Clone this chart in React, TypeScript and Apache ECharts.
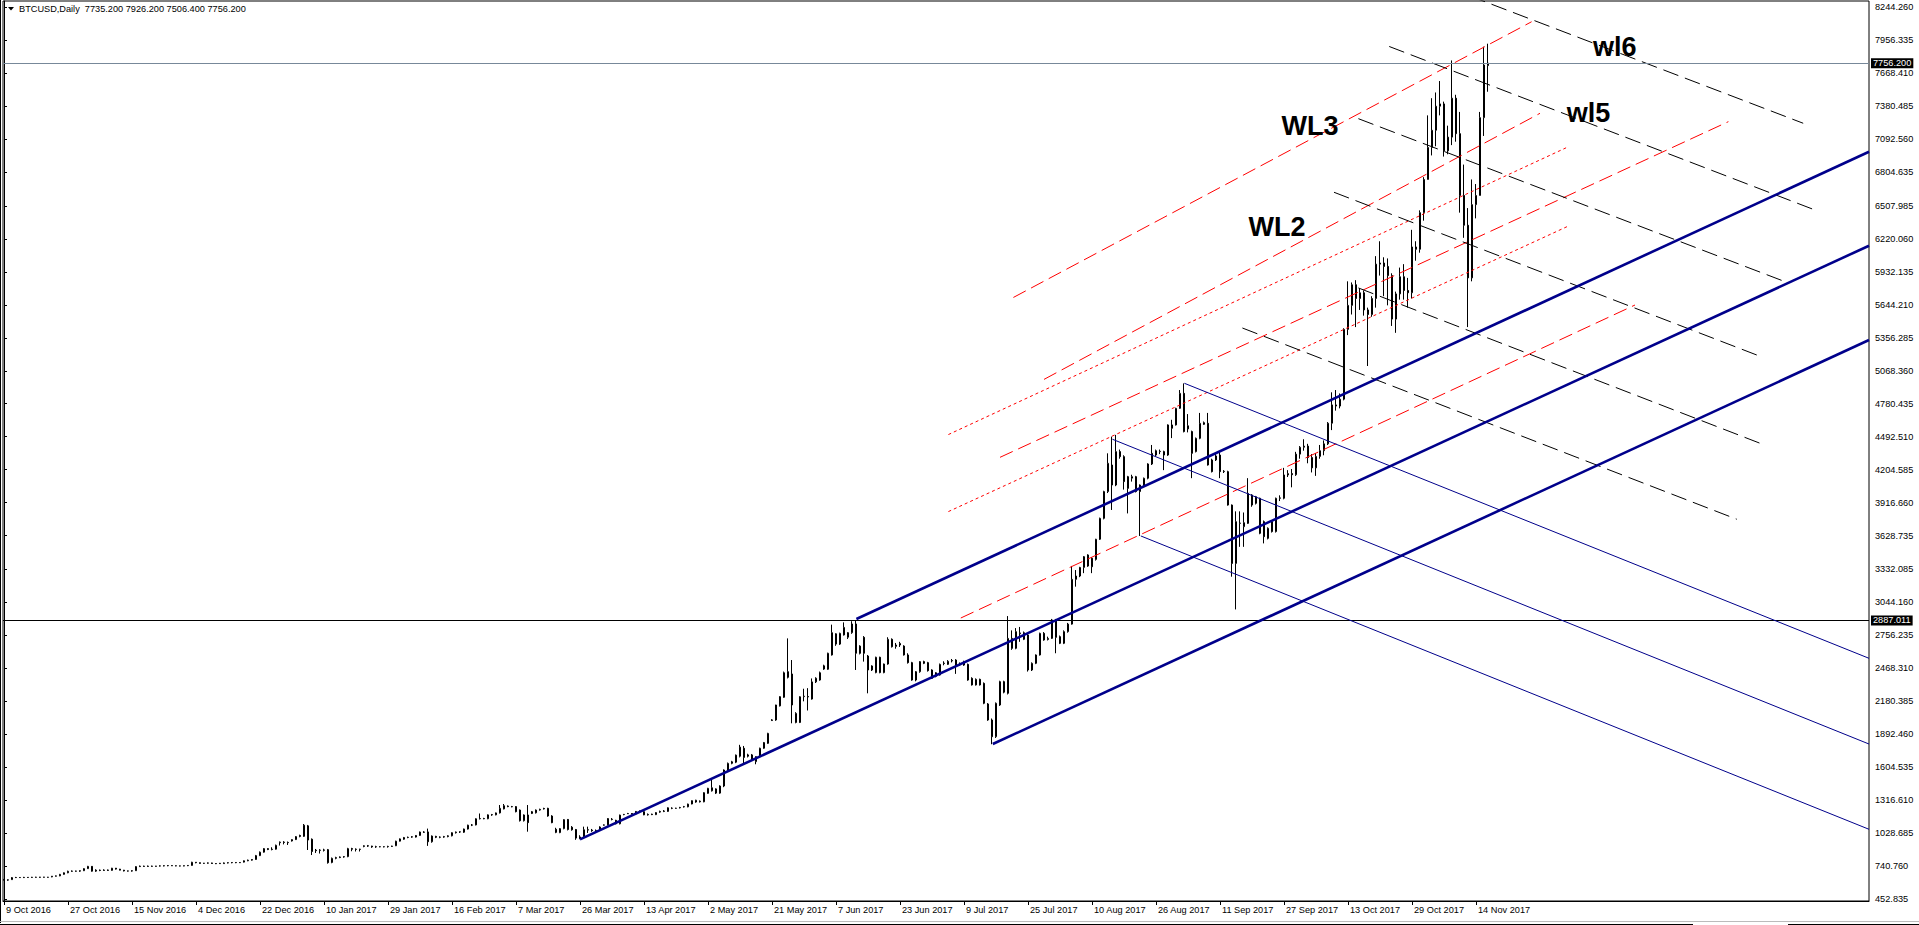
import React, { useEffect, useRef } from "react";
import * as echarts from "echarts";

const FONT = "'Liberation Sans', Arial, sans-serif";

// Date tick labels (bar index -> label)
const dateLabelBars = [0, 16, 32, 48, 64, 80, 96, 112, 128, 144, 160, 176, 192, 208, 224, 240, 256, 272, 288, 304, 320, 336, 352, 368];
const dateLabels = [
  "9 Oct 2016", "27 Oct 2016", "15 Nov 2016", "4 Dec 2016", "22 Dec 2016", "10 Jan 2017", "29 Jan 2017",
  "16 Feb 2017", "7 Mar 2017", "26 Mar 2017", "13 Apr 2017", "2 May 2017", "21 May 2017", "7 Jun 2017",
  "23 Jun 2017", "9 Jul 2017", "25 Jul 2017", "10 Aug 2017", "26 Aug 2017", "11 Sep 2017", "27 Sep 2017",
  "13 Oct 2017", "29 Oct 2017", "14 Nov 2017",
];

// Price tick labels (as printed on the right scale)
const priceLabels = [
  "452.835", "740.760", "1028.685", "1316.610", "1604.535", "1892.460", "2180.385", "2468.310", "2756.235",
  "3044.160", "3332.085", "3628.735", "3916.660", "4204.585", "4492.510", "4780.435", "5068.360", "5356.285",
  "5644.210", "5932.135", "6220.060", "6507.985", "6804.635", "7092.560", "7380.485", "7668.410", "7956.335",
  "8244.260",
];

// Daily bars: [open, high, low, close]
const barsOct2016: number[][] = [
  [622, 628, 615, 620], [620, 624, 612, 618], [622, 645, 620, 640], [640, 646, 636, 641], [641, 644, 638, 640],
  [640, 646, 636, 642], [642, 645, 639, 641], [641, 646, 637, 643], [643, 647, 639, 642], [642, 646, 638, 644],
  [644, 646, 641, 643], [643, 646, 640, 642], [646, 654, 643, 652], [652, 658, 649, 655], [655, 672, 652, 668],
  [668, 685, 665, 682], [682, 700, 678, 695], [695, 702, 690, 697], [697, 700, 692, 696], [696, 703, 690, 700],
  [700, 722, 697, 718], [718, 742, 715, 738], [738, 741, 692, 696], [696, 712, 690, 705], [705, 710, 696, 702],
  [702, 712, 698, 706], [706, 710, 698, 703], [703, 725, 700, 722], [722, 724, 710, 714], [714, 716, 703, 705],
  [705, 707, 694, 698], [698, 701, 693, 697], [697, 705, 692, 700], [700, 740, 698, 736], [736, 745, 732, 740],
  [740, 744, 733, 737], [737, 745, 733, 740], [740, 744, 734, 738], [738, 742, 735, 741], [741, 747, 737, 742],
  [742, 748, 738, 744], [744, 750, 739, 745], [745, 747, 741, 743], [743, 746, 739, 742], [742, 745, 738, 741],
  [741, 746, 739, 744], [744, 750, 740, 746], [746, 778, 744, 774],
];
const barsDec2016: number[][] = [
  [774, 776, 765, 770], [770, 772, 762, 764], [764, 768, 760, 766], [766, 772, 761, 768], [768, 770, 760, 763],
  [763, 766, 758, 761], [765, 768, 760, 762], [762, 772, 760, 768], [768, 774, 764, 770], [770, 776, 765, 772],
  [772, 775, 766, 770], [770, 774, 767, 772], [775, 790, 772, 787], [787, 797, 783, 792], [792, 802, 788, 798],
  [798, 838, 795, 832], [832, 868, 828, 862], [862, 898, 858, 893], [893, 897, 880, 885], [885, 905, 878, 888],
  [888, 928, 884, 922], [945, 955, 920, 950], [950, 958, 930, 947], [947, 955, 925, 945], [960, 975, 955, 972],
  [972, 1003, 968, 998], [1008, 1015, 992, 1000], [1000, 1108, 995, 1098], [1092, 1100, 881, 968], [975, 982, 837, 868],
  [880, 890, 855, 875], [880, 888, 850, 878], [878, 892, 868, 882], [884, 890, 762, 770], [772, 815, 765, 808],
  [808, 822, 800, 815], [815, 825, 810, 820], [820, 828, 814, 823], [823, 900, 818, 893], [893, 900, 870, 888],
  [888, 895, 868, 886], [886, 892, 868, 888], [912, 922, 905, 918], [918, 925, 908, 915], [915, 918, 900, 908],
  [908, 918, 900, 910], [910, 914, 905, 909], [909, 913, 904, 910],
];
const barsFeb2017: number[][] = [
  [910, 918, 902, 912], [912, 918, 908, 915], [918, 962, 915, 958], [958, 982, 955, 978], [975, 995, 970, 990],
  [990, 998, 984, 992], [996, 1002, 988, 994], [994, 1012, 990, 1008], [1008, 1042, 1005, 1038], [1038, 1045, 1030, 1036],
  [1039, 1068, 917, 953], [953, 1008, 945, 1003], [1000, 1005, 985, 992], [992, 1000, 984, 994], [994, 1004, 988, 998],
  [998, 1010, 992, 1005], [1005, 1036, 1000, 1032], [1032, 1042, 1025, 1038], [1038, 1045, 1030, 1040], [1036, 1068, 1030, 1064],
  [1064, 1102, 1060, 1098], [1098, 1108, 1090, 1100], [1100, 1158, 1096, 1154], [1154, 1200, 1148, 1156], [1156, 1162, 1150, 1154],
  [1154, 1192, 1150, 1188], [1188, 1196, 1180, 1190], [1188, 1208, 1184, 1205], [1205, 1274, 1200, 1245], [1240, 1283, 1236, 1268],
  [1265, 1270, 1255, 1260], [1260, 1266, 1254, 1259], [1260, 1265, 1210, 1216], [1230, 1235, 1130, 1137], [1137, 1192, 1130, 1187],
  [1187, 1274, 1041, 1120], [1200, 1222, 1195, 1216], [1206, 1235, 1200, 1230], [1230, 1242, 1225, 1236], [1244, 1250, 1235, 1240],
  [1245, 1250, 1172, 1178], [1178, 1185, 1115, 1120], [1062, 1075, 1028, 1035], [1033, 1072, 1028, 1068], [1068, 1150, 1062, 1146],
  [1148, 1152, 1052, 1060], [1080, 1090, 1050, 1058], [1060, 1065, 970, 985],
];
const barsApr2017: number[][] = [
  [985, 1010, 975, 995], [995, 1085, 990, 1058], [1058, 1085, 1030, 1055], [1055, 1065, 1040, 1050], [1050, 1060, 1040, 1052],
  [1052, 1088, 1048, 1082], [1098, 1104, 1094, 1100], [1100, 1160, 1096, 1156], [1150, 1160, 1140, 1148], [1140, 1145, 1105, 1110],
  [1110, 1190, 1105, 1186], [1190, 1196, 1185, 1192], [1198, 1205, 1195, 1200], [1200, 1204, 1190, 1195], [1196, 1222, 1192, 1218],
  [1222, 1226, 1214, 1218], [1216, 1220, 1185, 1188], [1188, 1200, 1182, 1192], [1194, 1198, 1186, 1190], [1190, 1212, 1186, 1208],
  [1212, 1225, 1206, 1218], [1218, 1230, 1212, 1222], [1218, 1254, 1214, 1250], [1245, 1254, 1238, 1246], [1246, 1250, 1242, 1245],
  [1252, 1258, 1244, 1250], [1258, 1266, 1252, 1260], [1258, 1286, 1254, 1282], [1283, 1315, 1280, 1312], [1300, 1320, 1294, 1316],
  [1308, 1314, 1296, 1302], [1302, 1386, 1298, 1382], [1376, 1424, 1372, 1420], [1398, 1495, 1392, 1425], [1415, 1420, 1370, 1378],
  [1378, 1446, 1372, 1440], [1440, 1585, 1430, 1580], [1580, 1645, 1575, 1638], [1638, 1660, 1630, 1652], [1648, 1715, 1640, 1710],
  [1700, 1800, 1690, 1780], [1770, 1790, 1638, 1690], [1700, 1722, 1690, 1712], [1712, 1720, 1660, 1667], [1653, 1700, 1630, 1697],
  [1697, 1775, 1690, 1770], [1770, 1825, 1765, 1820], [1813, 1905, 1808, 1900],
];
const barsMay2017: number[][] = [
  [2012, 2025, 2008, 2018], [2017, 2150, 2010, 2148], [2140, 2225, 2135, 2221], [2215, 2440, 2210, 2430], [2439, 2730, 2380, 2390],
  [2419, 2541, 1988, 2148], [1995, 2085, 1988, 2075], [1995, 2225, 1990, 2220], [2221, 2290, 2180, 2225], [2222, 2295, 2100, 2218],
  [2200, 2380, 2195, 2350], [2350, 2390, 2340, 2382], [2366, 2440, 2360, 2430], [2490, 2500, 2455, 2462], [2460, 2605, 2455, 2600],
  [2585, 2850, 2580, 2780], [2770, 2775, 2665, 2680], [2680, 2780, 2672, 2774], [2760, 2870, 2755, 2826], [2740, 2785, 2725, 2780],
  [2780, 2880, 2770, 2856], [2856, 2887, 2454, 2600], [2599, 2670, 2590, 2663], [2739, 2750, 2527, 2600], [2576, 2585, 2250, 2454],
  [2454, 2495, 2445, 2489], [2431, 2570, 2425, 2565], [2565, 2570, 2425, 2431], [2431, 2510, 2425, 2506], [2506, 2740, 2500, 2722],
  [2722, 2730, 2650, 2657], [2660, 2690, 2640, 2672], [2672, 2700, 2655, 2686], [2663, 2670, 2580, 2585], [2585, 2600, 2510, 2518],
  [2518, 2525, 2360, 2366], [2366, 2445, 2355, 2439], [2439, 2532, 2430, 2527], [2527, 2535, 2505, 2512], [2518, 2525, 2440, 2448],
  [2454, 2460, 2375, 2381], [2398, 2435, 2390, 2430], [2410, 2510, 2405, 2503], [2510, 2530, 2495, 2514], [2503, 2540, 2498, 2530],
  [2533, 2550, 2520, 2537], [2541, 2548, 2420, 2497], [2500, 2520, 2490, 2506],
];
const barsJul2017: number[][] = [
  [2497, 2535, 2490, 2527], [2503, 2510, 2360, 2366], [2381, 2390, 2318, 2323], [2323, 2380, 2318, 2372], [2372, 2378, 2318, 2323],
  [2337, 2345, 2155, 2163], [2157, 2165, 2010, 2017], [2017, 2030, 1805, 1871], [1871, 2170, 1860, 2163], [2148, 2360, 2140, 2352],
  [2352, 2360, 2250, 2260], [2250, 2925, 2240, 2730], [2730, 2800, 2630, 2643], [2643, 2820, 2635, 2789], [2770, 2830, 2700, 2778],
  [2722, 2790, 2715, 2780], [2760, 2770, 2440, 2454], [2454, 2520, 2445, 2512], [2512, 2590, 2505, 2585], [2585, 2780, 2580, 2774],
  [2774, 2785, 2710, 2716], [2720, 2745, 2712, 2730], [2730, 2900, 2725, 2891], [2891, 2900, 2600, 2739], [2745, 2755, 2680, 2687],
  [2687, 2800, 2680, 2789], [2789, 2865, 2780, 2855], [2855, 3363, 2850, 3246], [3246, 3327, 3182, 3275], [3275, 3355, 3265, 3350],
  [3350, 3450, 3300, 3444], [3362, 3465, 3355, 3459], [3430, 3440, 3300, 3356], [3420, 3600, 3410, 3596], [3596, 3785, 3590, 3779],
  [3779, 4020, 3770, 4013], [4013, 4347, 4000, 4260], [4245, 4493, 3852, 4070], [4070, 4508, 4060, 4362], [4362, 4380, 4300, 4318],
  [4318, 4330, 4030, 4100], [4143, 4150, 3822, 4041], [4130, 4160, 4100, 4143], [4143, 4150, 4005, 4013], [4013, 4075, 3625, 4070],
  [4070, 4135, 4060, 4129], [4129, 4260, 4120, 4254], [4254, 4420, 4245, 4347],
];
const barsAug2017: number[][] = [
  [4332, 4380, 4320, 4370], [4362, 4380, 4340, 4365], [4362, 4370, 4200, 4332], [4332, 4600, 4325, 4595], [4595, 4640, 4480, 4566],
  [4595, 4745, 4590, 4740], [4740, 4900, 4735, 4871], [4871, 4958, 4530, 4537], [4560, 4690, 4530, 4588], [4537, 4545, 4130, 4347],
  [4362, 4485, 4355, 4478], [4478, 4700, 4470, 4609], [4600, 4625, 4595, 4615], [4609, 4700, 4240, 4245], [4289, 4300, 4180, 4187],
  [4289, 4350, 4280, 4324], [4332, 4360, 4130, 4187], [4187, 4200, 4175, 4190], [4187, 4195, 3890, 3895], [3895, 3900, 3269, 3385],
  [3385, 3840, 2983, 3750], [3735, 3840, 3530, 3738], [3706, 3830, 3530, 3741], [3735, 4130, 3730, 3997], [3983, 3990, 3880, 3895],
  [3910, 3975, 3900, 3968], [3954, 3960, 3640, 3648], [3750, 3760, 3560, 3619], [3604, 3700, 3595, 3692], [3750, 3760, 3655, 3663],
  [3663, 3960, 3655, 3954], [3954, 3980, 3930, 3958], [3954, 4220, 3945, 4158], [4158, 4200, 4140, 4170], [4170, 4210, 4050, 4160],
  [4160, 4360, 4150, 4340], [4340, 4410, 4300, 4400], [4400, 4470, 4370, 4410], [4410, 4430, 4260, 4310], [4310, 4340, 4180, 4220],
  [4220, 4350, 4150, 4320], [4320, 4420, 4300, 4370], [4370, 4460, 4330, 4430], [4430, 4620, 4420, 4610], [4610, 4880, 4550, 4770],
  [4770, 4900, 4720, 4760], [4760, 4870, 4740, 4820], [4820, 5440, 4810, 5430],
];
const barsOct2017: number[][] = [
  [5430, 5850, 5380, 5640], [5640, 5840, 5560, 5820], [5820, 5860, 5450, 5700], [5700, 5790, 5600, 5750], [5750, 5770, 5550, 5600],
  [5600, 5620, 5110, 5560], [5560, 5720, 5540, 5700], [5700, 6070, 5620, 6000], [6000, 6200, 5900, 6010], [6010, 6060, 5720, 5980],
  [5980, 6050, 5640, 5900], [5900, 5920, 5460, 5520], [5520, 5760, 5400, 5740], [5740, 5970, 5690, 5890], [5890, 6000, 5690, 5770],
  [5770, 5880, 5620, 5750], [5750, 6300, 5700, 6150], [6150, 6200, 6030, 6130], [6130, 6470, 6100, 6450], [6450, 6760, 6380, 6740],
  [6740, 7300, 6740, 7020], [7020, 7450, 6950, 7170], [7170, 7500, 7030, 7380], [7380, 7600, 7300, 7400], [7400, 7420, 6940, 6990],
  [6990, 7210, 6960, 7110], [7110, 7780, 7040, 7450], [7450, 7480, 7070, 7140], [7140, 7330, 6450, 6600], [6600, 6870, 6230, 6340],
  [6340, 6490, 5450, 5880], [5880, 6740, 5850, 6520], [6520, 6700, 6400, 6600], [6600, 7330, 6600, 7280], [7280, 7900, 7120, 7740],
  [7735.2, 7926.2, 7506.4, 7756.2],
];

// Horizontal levels and their scale labels
const levelValues = [2887.011, 7756.2];
const levelLabels = ["2887.011", "7756.200"];

// Trend lines: pairs of [barIndex, price]
const blueChannel: number[][][] = [
  [[213.1, 2899], [466.25, 6982]],
  [[144, 974], [466.25, 6161]],
  [[247.2, 1807], [466.25, 5337]],
];
const blueFalling: number[][][] = [
  [[295.1, 4959], [466.25, 2556]],
  [[277.1, 4470], [466.25, 1807]],
  [[284.2, 3625], [466.25, 1062]],
];
const redDashed: number[][][] = [
  [[252.35, 5709], [381.9, 8118]],
  [[260, 4993], [384, 7318]],
  [[249, 4312], [431.1, 7245]],
  [[239.2, 2908], [407.75, 5643]],
];
const redDotted: number[][][] = [
  [[236.1, 4511], [391.1, 7026]],
  [[236.1, 3838], [391.1, 6333]],
];
const blackDashed: number[][][] = [
  [[366.5, 8343], [449.8, 7231]],
  [[346.3, 7902], [453.2, 6467]],
  [[338.6, 7271], [445.25, 5847]],
  [[332.5, 6628], [438.2, 5206]],
  [[338.6, 5792], [439, 4435]],
  [[309.6, 5442], [433.2, 3771]],
];

const lineLabels = [
  { text: "wl6", x: 1593, y: 46.7 },
  { text: "wl5", x: 1566.7, y: 113.3 },
  { text: "WL3", x: 1281.5, y: 126 },
  { text: "WL2", x: 1248.4, y: 227 },
];

const headerText = "BTCUSD,Daily\u00a0\u00a07735.200 7926.200 7506.400 7756.200";

export default function App() {
  const ref = useRef<HTMLDivElement>(null);

  useEffect(() => {
    if (!ref.current) return;
    const chart = echarts.init(ref.current, null, { renderer: "svg" });
    const bars = [
      ...barsOct2016, ...barsDec2016, ...barsFeb2017, ...barsApr2017,
      ...barsMay2017, ...barsJul2017, ...barsAug2017, ...barsOct2017,
    ];
    const candleData = bars.map((b, i) => [i, b[0], b[3], b[2], b[1]]);
    const priceValues = priceLabels.map(Number);

    const mkLines = (groups: number[][][], color: string, width: number, type: any, z: number) =>
      groups.map((pts) => ({
        type: "line",
        data: pts,
        symbol: "none",
        silent: true,
        clip: true,
        z,
        lineStyle: { color, width, type },
        emphasis: { disabled: true },
      }));

    const option: any = {
      animation: false,
      backgroundColor: "#ffffff",
      grid: {
        left: 3, right: 50, top: 1, bottom: 24,
        show: true, borderColor: "#000", borderWidth: 1, backgroundColor: "#fff",
      },
      xAxis: {
        type: "value",
        min: -0.25,
        max: 466.25,
        axisLine: { show: true, lineStyle: { color: "#000", width: 1 } },
        axisTick: { show: true, customValues: dateLabelBars, length: 4, lineStyle: { color: "#000" } },
        axisLabel: {
          customValues: dateLabelBars,
          formatter: (v: number) => {
            const k = dateLabelBars.indexOf(Math.round(v));
            return k >= 0 ? dateLabels[k] : "";
          },
          align: "left",
          padding: [0, 0, 0, 2],
          margin: 4,
          fontSize: 9.2,
          fontFamily: FONT,
          color: "#000",
        },
        splitLine: { show: false },
      },
      yAxis: {
        type: "value",
        position: "right",
        min: 435.36,
        max: 8299.3,
        axisLine: { show: true, lineStyle: { color: "#000", width: 1 } },
        axisTick: { show: true, customValues: priceValues, length: 3, lineStyle: { color: "#000" } },
        axisLabel: {
          customValues: priceValues,
          formatter: (v: number) => {
            const k = priceValues.findIndex((t) => Math.abs(t - v) < 1e-6);
            return k >= 0 ? priceLabels[k] : "";
          },
          margin: 6,
          fontSize: 9.2,
          fontFamily: FONT,
          color: "#000",
        },
        splitLine: { show: false },
      },
      series: [
        {
          type: "candlestick",
          data: candleData,
          encode: { x: 0, y: [1, 2, 3, 4] },
          barWidth: 2,
          z: 2,
          silent: true,
          itemStyle: {
            color: "#ffffff",
            color0: "#000000",
            borderColor: "#000000",
            borderColor0: "#000000",
            borderColorDoji: "#000000",
            borderWidth: 1,
          },
          markLine: {
            symbol: ["none", "none"],
            silent: true,
            animation: false,
            precision: 3,
            data: [
              { yAxis: levelValues[0], lineStyle: { color: "#000000", width: 1, type: "solid" } },
              { yAxis: levelValues[1], lineStyle: { color: "#778899", width: 1, type: "solid" } },
            ],
            label: {
              show: true,
              position: "end",
              distance: 2,
              formatter: (p: any) => {
                const v = Number(p.value);
                const k = levelValues.findIndex((t) => Math.abs(t - v) < 0.01);
                return k >= 0 ? levelLabels[k] : v.toFixed(3);
              },
              color: "#fff",
              backgroundColor: "#000",
              padding: [1, 2, 0, 2],
              fontSize: 9.2,
              fontFamily: FONT,
            },
          },
        },
        ...mkLines(blueChannel, "#00008B", 2.6, "solid", 5),
        ...mkLines(blueFalling, "#00008B", 1, "solid", 5),
        ...mkLines(redDashed, "#FF0000", 1, [14, 6], 4),
        ...mkLines(redDotted, "#FF0000", 1, [3, 3], 4),
        ...mkLines(blackDashed, "#000000", 1, [16, 7], 4),
      ],
      graphic: [
        { type: "line", shape: { x1: 0.5, y1: 0, x2: 0.5, y2: 923 }, style: { stroke: "#000", lineWidth: 1 }, silent: true },
        { type: "line", shape: { x1: 0, y1: 921.5, x2: 1919, y2: 921.5 }, style: { stroke: "#bbbbbb", lineWidth: 1 }, silent: true },
        { type: "line", shape: { x1: 0, y1: 924.5, x2: 1693, y2: 924.5 }, style: { stroke: "#000", lineWidth: 1 }, silent: true },
        { type: "line", shape: { x1: 1788, y1: 924.5, x2: 1919, y2: 924.5 }, style: { stroke: "#000", lineWidth: 1 }, silent: true },
        { type: "polygon", shape: { points: [[8, 7], [14, 7], [11, 10.5]] }, style: { fill: "#000" }, silent: true },
        {
          type: "text", x: 19, y: 8.7, silent: true,
          style: { text: headerText, fill: "#000", font: `9.2px ${FONT}`, textVerticalAlign: "middle", textAlign: "left" },
        },
        ...lineLabels.map((l) => ({
          type: "text", x: l.x, y: l.y, silent: true, z: 10,
          style: { text: l.text, fill: "#000", font: `bold 27px ${FONT}`, textVerticalAlign: "middle", textAlign: "left" },
        })),
      ],
    };

    chart.setOption(option);
    return () => chart.dispose();
  }, []);

  return (
    <div
      ref={ref}
      style={{ position: "fixed", left: 0, top: 0, width: 1919, height: 925, background: "#fff" }}
    />
  );
}
